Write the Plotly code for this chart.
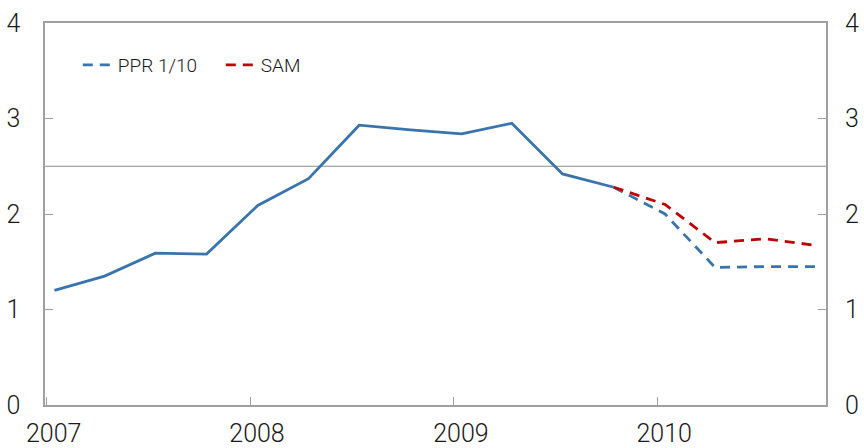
"""
Rentebane: historikk og anslag PPR 1/10 og SAM
"""
import plotly.graph_objects as go

# kvartalsdata, datert midt i forste maned i kvartalet
hist_dates = ["2007-01-15", "2007-04-15", "2007-07-15", "2007-10-15",
              "2008-01-15", "2008-04-15", "2008-07-15", "2008-10-15",
              "2009-01-15", "2009-04-15", "2009-07-15", "2009-10-15"]
hist_values = [1.20, 1.35, 1.59, 1.58, 2.09, 2.37, 2.93, 2.88, 2.84, 2.95, 2.42, 2.28]

proj_dates = ["2009-10-15", "2010-01-15", "2010-04-15", "2010-07-15", "2010-10-15"]
ppr_values = [2.28, 2.00, 1.44, 1.45, 1.45]
sam_values = [2.28, 2.10, 1.70, 1.74, 1.67]

ref_level = 2.5
year_ticks = ["2007-01-01", "2008-01-01", "2009-01-01", "2010-01-01"]
year_labels = ["2007", "2008", "2009", "2010"]
y_ticks = [0, 1, 2, 3, 4]

BLUE = "#3a74ad"
RED = "#c00000"
AXIS = "#a0a0a0"
FONT = "Roboto"


def build_figure() -> go.Figure:
    fig = go.Figure()
    fig.add_trace(go.Scatter(x=hist_dates, y=hist_values, mode="lines",
                             line=dict(color=BLUE, width=2.8), showlegend=False))
    fig.add_trace(go.Scatter(x=proj_dates, y=ppr_values, mode="lines", name="PPR 1/10",
                             line=dict(color=BLUE, width=2.8, dash="10px,7px")))
    fig.add_trace(go.Scatter(x=proj_dates, y=sam_values, mode="lines", name="SAM",
                             line=dict(color=RED, width=2.8, dash="10px,7px")))
    fig.add_hline(y=ref_level, line=dict(color="#8c8c8c", width=1.2), layer="below")

    tickfont = dict(family=FONT, size=25, color="#1a1a1a", weight=300)
    fig.update_layout(
        width=864, height=448,
        margin=dict(l=45, r=38, t=23, b=43),
        paper_bgcolor="white", plot_bgcolor="white",
        font=dict(family=FONT, color="#1a1a1a"),
        legend=dict(orientation="h", x=0.042, y=0.89, xanchor="left", yanchor="middle",
                    font=dict(family=FONT, size=19, color="#1a1a1a", weight=300),
                    bgcolor="rgba(0,0,0,0)", entrywidth=98, itemwidth=30),
        xaxis=dict(type="date", range=["2006-12-29", "2010-10-31"],
                   tickvals=year_ticks, ticktext=year_labels,
                   ticks="inside", ticklen=8, tickcolor=AXIS, tickwidth=1,
                   ticklabelshift=7, ticklabelstandoff=5,
                   showgrid=False, zeroline=False, automargin=False,
                   showline=True, linecolor=AXIS, linewidth=1.5, mirror=True,
                   tickfont=tickfont),
        yaxis=dict(range=[0, 4], tickvals=y_ticks,
                   ticks="inside", ticklen=8, tickcolor=AXIS, tickwidth=1,
                   ticklabelstandoff=18, automargin=False,
                   showgrid=False, zeroline=False,
                   showline=True, linecolor=AXIS, linewidth=1.5, mirror=True,
                   tickfont=tickfont),
        yaxis2=dict(range=[0, 4], tickvals=y_ticks, overlaying="y", side="right",
                    matches="y",
                    ticks="inside", ticklen=8, tickcolor=AXIS, tickwidth=1,
                    ticklabelstandoff=18, automargin=False,
                    showgrid=False, zeroline=False, showline=False,
                    tickfont=tickfont),
    )
    # usynlig spor for a vise hoyre akse
    fig.add_trace(go.Scatter(x=hist_dates[:1], y=hist_values[:1], yaxis="y2",
                             mode="lines", showlegend=False, hoverinfo="skip",
                             line=dict(color="rgba(0,0,0,0)")))
    return fig


def main():
    fig = build_figure()
    # fjern standardmargen i nettleseren slik at figuren starter i hjornet
    fig.write_html("out.html", config={"displayModeBar": False},
                   post_script="document.body.style.margin='0';")


if __name__ == "__main__":
    main()
